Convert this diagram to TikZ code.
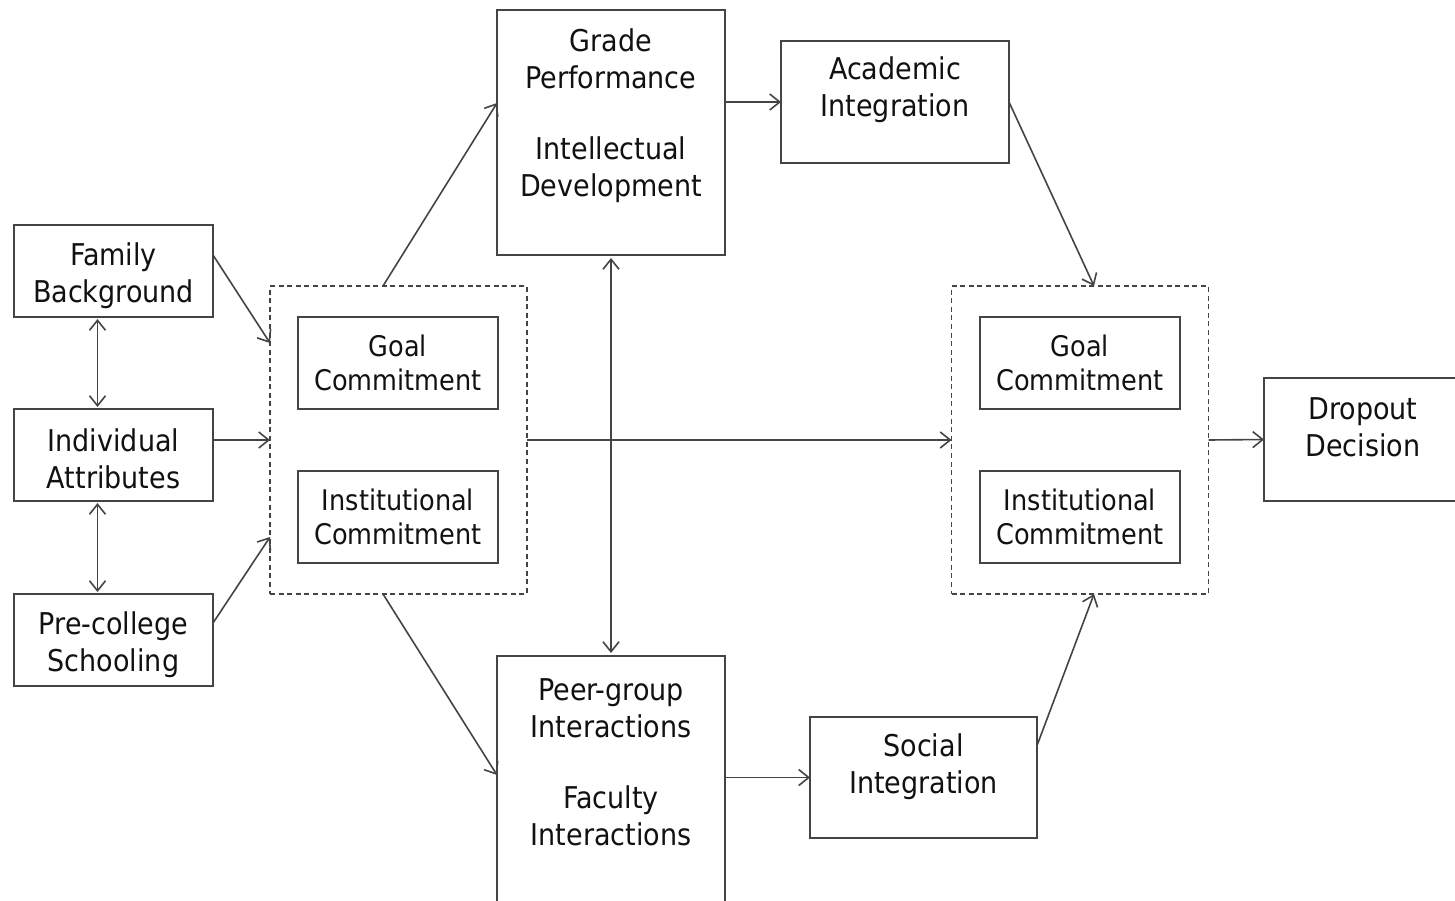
\documentclass[tikz,border=0pt]{standalone}
\usepackage{fontspec}
\setmainfont{DejaVu Sans Condensed}
\usetikzlibrary{arrows.meta}
\definecolor{linec}{HTML}{444444}
\definecolor{textc}{HTML}{111111}
\begin{document}
\begin{tikzpicture}[x=0.5pt,y=-0.5pt,
  box/.style={draw=linec, line width=0.9pt, inner sep=0pt, outer sep=0pt, text=textc, align=center,
    font=\fontsize{15}{18.5}\selectfont},
  lbox/.style={box, minimum width=99.5pt, minimum height=46pt},
  cbox/.style={box, minimum width=100pt, minimum height=46pt, font=\fontsize{14.2}{17}\selectfont},
  dbox/.style={draw=linec, line width=0.8pt, dash pattern=on 2.5pt off 1.8pt, inner sep=0pt, outer sep=0pt,
    minimum width=128.5pt, minimum height=154pt},
  txt/.style={text=textc, align=center, inner sep=0pt, font=\fontsize{15}{18.5}\selectfont},
  arr/.style={draw=linec, line width=0.8pt, -{Straight Barb[length=5pt,width=8pt]}},
  darr/.style={draw=linec, line width=0.8pt, {Straight Barb[length=5pt,width=8pt]}-{Straight Barb[length=5pt,width=8pt]}}
]
\useasboundingbox (0,0) rectangle (1455,900);
\clip (0,0) rectangle (1455,900);

% left column
\node[lbox] (fam) at (113.5,271) {};
\node[txt] (famt) at ([yshift=-2.2pt]fam.center) {Family\\Background};
\node[lbox] (ind) at (113.5,455) {};
\node[txt] (indt) at ([yshift=-2pt]ind.center) {Individual\\Attributes};
\node[lbox] (pre) at (113.5,640) {};
\node[txt] (pret) at ([yshift=-2.2pt]pre.center) {Pre-college\\Schooling};

% left commitments
\node[dbox] (lc) at (398.5,440) {};
\node[cbox] (goall) at (398,363) {Goal\\Commitment};
\node[cbox] (instl) at (398,517) {Institutional\\Commitment};

% middle boxes
\node[box, minimum width=114pt, minimum height=122.5pt] (grade) at (611,132.5) {};
\node[txt] (gradet) at ([yshift=8.3pt]grade.center) {Grade\\Performance\\[17pt]Intellectual\\Development};
\node[box, minimum width=114pt, minimum height=127pt] (peer) at (611,783) {};
\node[txt] (peert) at ([yshift=10.5pt]peer.center) {Peer-group\\Interactions\\[17pt]Faculty\\Interactions};

\node[box, minimum width=114pt, minimum height=61pt] (acad) at (895,102) {};
\node[txt] (acadt) at ([yshift=6pt]acad.center) {Academic\\Integration};
\node[box, minimum width=113.5pt, minimum height=60.5pt] (soc) at (923.5,777.5) {};
\node[txt] (soct) at ([yshift=5.5pt]soc.center) {Social\\Integration};

% right commitments
\node[dbox] (rc) at (1080,440) {};
\node[cbox] (goalr) at (1080,363) {Goal\\Commitment};
\node[cbox] (instr) at (1080,517) {Institutional\\Commitment};

% dropout
\node[box, minimum width=99pt, minimum height=61.5pt] (drop) at (1363,439.5) {};
\node[txt] (dropt) at ([yshift=6pt]drop.center) {Dropout\\Decision};

% connectors
\draw[arr] ([yshift=8pt]fam.east) -- ([yshift=48.5pt]lc.west);
\draw[arr] (ind.east |- lc.west) -- (lc.west);
\draw[arr] ([yshift=8.5pt]pre.east) -- ([yshift=-48.5pt]lc.west);
\draw[darr, shorten <=1pt, shorten >=1pt] ([xshift=-8pt]fam.south) -- ([xshift=-8pt]ind.north);
\draw[darr, shorten <=1pt, shorten >=1pt] ([xshift=-8pt]ind.south) -- ([xshift=-8pt]pre.north);

\draw[arr] ([xshift=-7.75pt]lc.north) -- ([yshift=14.75pt]grade.west);
\draw[arr] ([xshift=-7.75pt]lc.south) -- ([yshift=4pt]peer.west);
\draw[arr] (grade.east |- acad.west) -- (acad.west);
\draw[arr] (peer.east |- soc.west) -- (soc.west);
\draw[darr, shorten <=1.5pt, shorten >=1.5pt] (grade.south) -- (grade.south |- peer.north);

\draw[arr] (acad.east) -- ([xshift=7pt]rc.north);
\draw[arr] ([yshift=16pt]soc.east) -- ([xshift=7pt]rc.south);
\draw[arr] (lc.east) -- (rc.west);
\draw[arr] (rc.east) -- (drop.west);
\end{tikzpicture}
\end{document}
